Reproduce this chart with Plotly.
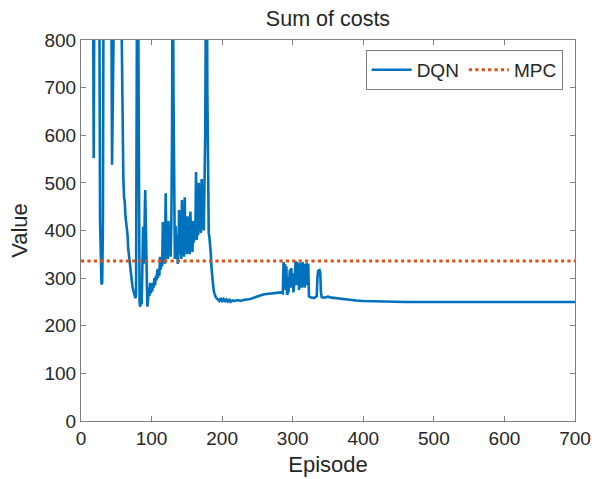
import plotly.graph_objects as go

# ---- data ----
dqn_episode = [1, 10, 16, 17, 18, 19, 20, 25, 26, 27, 28, 29, 30, 31, 32, 35, 42, 43, 44, 45, 50,
               57, 58, 59, 60, 61, 62, 63, 64, 66, 67, 68, 69, 70, 71, 72, 73, 74, 75, 76, 77, 78,
               79, 80, 81, 82, 83, 84, 85, 86, 87, 88, 89, 90, 91, 92, 93, 94, 95, 96, 97, 98, 99,
               100, 101, 102, 103, 104, 105, 106, 107, 108, 109, 110, 111, 112, 113, 114, 115, 116,
               117, 118, 119, 120, 121, 122, 123, 124, 125, 126, 127, 128, 129, 130, 131, 132, 133,
               134, 135, 136, 137, 138, 139, 140, 141, 142, 143, 144, 145, 146, 147, 148, 149, 150,
               151, 152, 153, 154, 155, 156, 157, 158, 159, 160, 161, 162, 163, 164, 165, 166, 167,
               168, 169, 170, 171, 172, 173, 174, 175, 176, 177, 178, 179, 180, 181, 182, 183, 184,
               185, 186, 187, 188, 189, 190, 191, 192, 194, 196, 198, 200, 202, 204, 206, 208, 210,
               212, 215, 218, 222, 226, 230, 235, 240, 245, 250, 255, 260, 265, 270, 275, 280, 283,
               286, 287, 288, 289, 290, 291, 292, 294, 296, 297, 298, 299, 300, 301, 303, 304, 305,
               306, 307, 308, 309, 310, 311, 312, 313, 314, 315, 316, 317, 318, 319, 320, 321, 322,
               323, 325, 330, 334, 335, 336, 338, 339, 340, 341, 345, 350, 355, 360, 370, 380, 390,
               400, 420, 440, 460, 500, 550, 600, 650, 700]
dqn_value = [1500, 1200, 1400, 900, 552, 900, 1300, 1100, 900, 420, 295, 287, 290, 400, 950, 1200, 1000, 900, 538, 900, 1300,
             900, 700, 590, 510, 470, 460, 430, 420, 390, 360, 345, 332, 318, 300, 285, 282, 275, 270, 262, 258, 265,
             900, 1200, 900, 300, 248, 240, 252, 245, 300, 408, 330, 450, 485, 400, 300, 240, 255, 280, 262, 290, 268,
             285, 272, 290, 280, 300, 285, 305, 295, 318, 300, 320, 305, 345, 318, 335, 325, 418,
             340, 380, 330, 478, 350, 395, 340, 420, 355, 390, 345, 410, 600, 1100, 700, 380, 340,
             410, 360, 390, 330, 360, 443, 350, 395, 340, 464, 355, 400, 345, 470, 360, 410, 350,
             430, 365, 395, 350, 440, 370, 400, 355, 420, 375, 410, 390, 523, 380, 420, 390, 500,
             400, 480, 395, 508, 420, 470, 400, 538, 600, 900, 1200, 700, 405, 395, 385, 370, 350,
             320, 300, 285, 275, 268, 262, 260, 258, 255, 252, 258, 252, 256, 250, 255, 251, 256,
             250, 253, 252, 254, 252, 254, 255, 256, 259, 262, 264, 266, 267, 268, 268, 269, 270,
             268, 334, 280, 330, 275, 325, 265, 272, 318, 280, 321, 285, 310, 270, 300, 336, 285,
             334, 290, 330, 275, 332, 285, 330, 280, 334, 290, 328, 280, 330, 285, 332, 290, 330,
             262, 260, 258, 262, 300, 315, 317, 312, 270, 260, 259, 261, 259, 258, 257, 255, 253,
             252, 251, 251, 250, 250, 250, 250, 250, 250]
mpc_episode = [0, 700]
mpc_value = [336, 336]

x_ticks = [0, 100, 200, 300, 400, 500, 600, 700]
y_ticks = [0, 100, 200, 300, 400, 500, 600, 700, 800]

TXT = "#262626"
AX = "#808080"
FONT = "Liberation Sans, Arial, sans-serif"

fig = go.Figure()
fig.add_trace(go.Scatter(x=dqn_episode, y=dqn_value, mode="lines", name="DQN",
                         line=dict(color="#0072BD", width=2.6)))
fig.add_trace(go.Scatter(x=mpc_episode, y=mpc_value, mode="lines", name="MPC",
                         line=dict(color="#D95319", width=3.2, dash="dot")))

axis_common = dict(showgrid=False, zeroline=False, showline=True, linecolor=AX, linewidth=1,
                   mirror="ticks", ticks="inside", ticklen=5, tickcolor=AX, automargin=False,
                   tickfont=dict(size=19, color=TXT, family=FONT))

fig.update_xaxes(range=[0, 700], tickvals=x_ticks, ticktext=[str(v) for v in x_ticks],
                 title=dict(text="Episode", font=dict(size=22, color=TXT, family=FONT), standoff=8),
                 **axis_common)
fig.update_yaxes(range=[0, 800], tickvals=y_ticks, ticktext=[str(v) for v in y_ticks],
                 title=dict(text="Value", font=dict(size=22, color=TXT, family=FONT), standoff=10),
                 **axis_common)

fig.update_layout(
    width=595, height=479,
    margin=dict(l=81, r=20, t=40, b=58),
    paper_bgcolor="white", plot_bgcolor="white",
    font=dict(family=FONT, color=TXT),
    title=dict(text="Sum of costs", x=0.5, xref="paper", xanchor="center", y=0.962, yanchor="middle",
               font=dict(size=21.5, color=TXT, family=FONT), automargin=False),
    legend=dict(orientation="h", x=0.975, xanchor="right", y=0.974, yanchor="top",
                bgcolor="white", bordercolor=AX, borderwidth=1,
                font=dict(size=19, color=TXT, family=FONT), itemwidth=40, tracegroupgap=0),
    showlegend=True,
)

fig.write_html("out.html")
